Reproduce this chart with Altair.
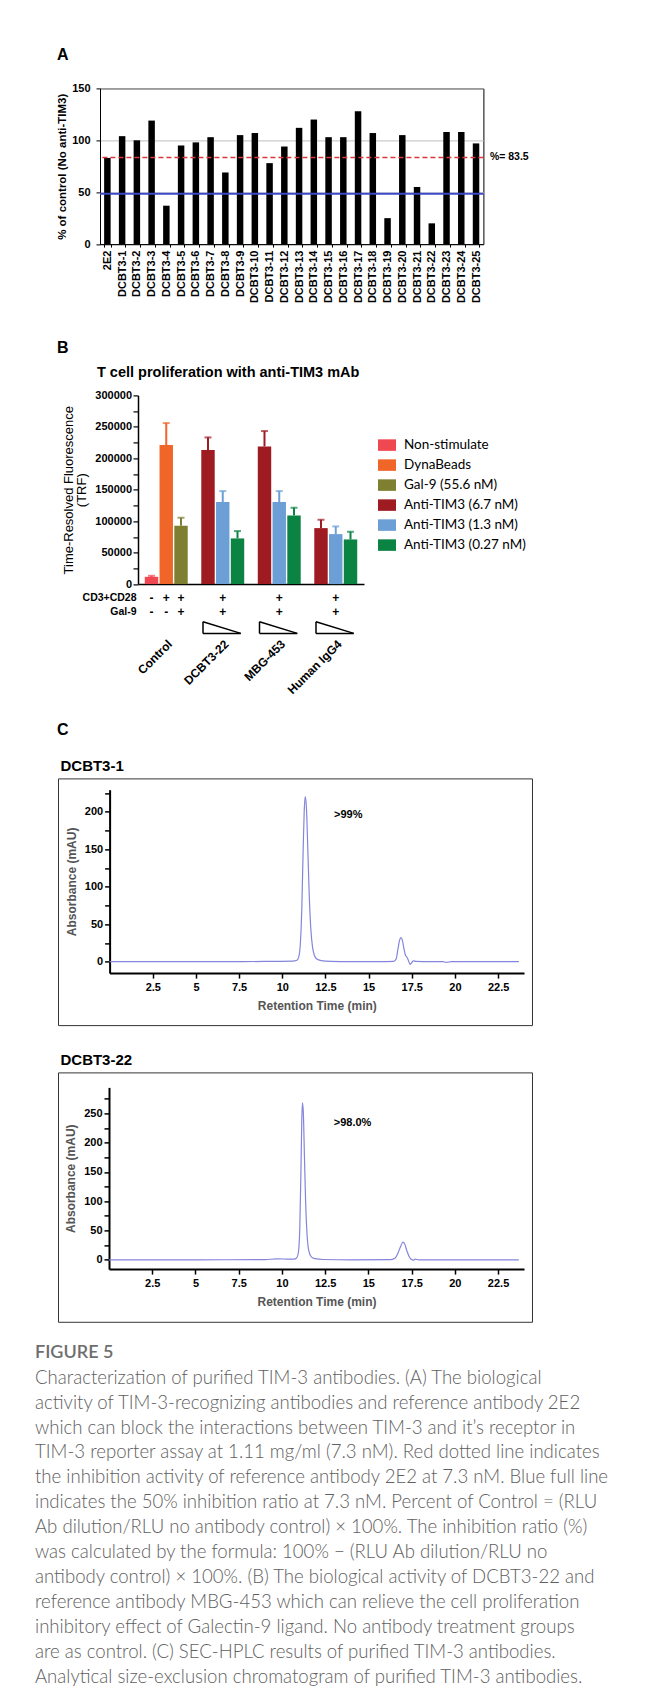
import altair as alt
import pandas as pd

FONT = "Liberation Sans"
CAPFONT = "Lato"

# ---------------- Panel A data ----------------
a_antibodies = ["2E2", "DCBT3-1", "DCBT3-2", "DCBT3-3", "DCBT3-4", "DCBT3-5", "DCBT3-6",
                "DCBT3-7", "DCBT3-8", "DCBT3-9", "DCBT3-10", "DCBT3-11", "DCBT3-12",
                "DCBT3-13", "DCBT3-14", "DCBT3-15", "DCBT3-16", "DCBT3-17", "DCBT3-18",
                "DCBT3-19", "DCBT3-20", "DCBT3-21", "DCBT3-22", "DCBT3-23", "DCBT3-24",
                "DCBT3-25"]
a_percent = [83, 104, 100, 119, 37, 95, 98, 103, 69, 105, 107, 78, 94,
             112, 120, 103, 103, 128, 107, 25, 105, 55, 20, 108, 108, 97]
a_ref_level = 83.5
a_half_level = 48.5
a_ref_label = "%= 83.5"

# ---------------- Panel B data ----------------
b_groups = ["Control", "DCBT3-22", "MBG-453", "Human IgG4"]
b_series = ["Non-stimulate", "DynaBeads", "Gal-9 (55.6 nM)", "Anti-TIM3 (6.7 nM)",
            "Anti-TIM3 (1.3 nM)", "Anti-TIM3 (0.27 nM)"]
b_colors = ["#ef4850", "#f06528", "#7f7f32", "#9e1b22", "#6b9fd6", "#0b8443"]
b_bar_group = ["Control"] * 3 + ["DCBT3-22"] * 3 + ["MBG-453"] * 3 + ["Human IgG4"] * 3
b_bar_series = ["Non-stimulate", "DynaBeads", "Gal-9 (55.6 nM)",
                "Anti-TIM3 (6.7 nM)", "Anti-TIM3 (1.3 nM)", "Anti-TIM3 (0.27 nM)",
                "Anti-TIM3 (6.7 nM)", "Anti-TIM3 (1.3 nM)", "Anti-TIM3 (0.27 nM)",
                "Anti-TIM3 (6.7 nM)", "Anti-TIM3 (1.3 nM)", "Anti-TIM3 (0.27 nM)"]
b_bar_slot = [0, 1, 2, 0, 1, 2, 0, 1, 2, 0, 1, 2]
b_mean = [11600, 221000, 92800, 213000, 130400, 72600, 218900, 130400, 109200, 89000, 79500, 71000]
b_err = [1600, 35000, 12700, 20200, 17500, 11700, 24400, 17500, 12200, 13300, 12200, 12200]
b_cd3_control = ["-", "+", "+"]
b_gal9_control = ["-", "-", "+"]
b_treated_groups = ["DCBT3-22", "MBG-453", "Human IgG4"]
b_row_labels = ["CD3+CD28", "Gal-9"]

# ---------------- Panel C data ----------------
c1_time = [0.0, 5.0, 9.0, 10.6, 10.85, 10.95, 11.05, 11.13, 11.2, 11.27, 11.33, 11.4, 11.48,
           11.56, 11.65, 11.75, 11.87, 12.0, 12.25, 12.8, 14.0, 16.45, 16.6, 16.7, 16.8,
           16.87, 16.95, 17.05, 17.13, 17.22, 17.3, 17.4, 17.48, 17.58, 17.75, 18.5, 19.3,
           19.5, 19.8, 23.7]
c1_abs = [0, 0, 0.3, 0.8, 2, 6, 25, 70, 140, 200, 220, 205, 150,
          90, 45, 20, 8, 3.5, 1.5, 0.5, 0, 0.3, 4, 17, 29,
          32, 29, 17, 9, 6, 2, -3.5, -2, 1, 0.5, 0, 0,
          -0.8, 0, 0]
c2_time = [0.0, 5.0, 9.0, 9.7, 10.3, 10.7, 10.85, 10.95, 11.03, 11.1, 11.15, 11.19, 11.24,
           11.3, 11.37, 11.45, 11.55, 11.7, 11.9, 12.4, 14.0, 16.3, 16.55, 16.72, 16.88,
           17.0, 17.1, 17.22, 17.35, 17.47, 17.6, 17.72, 17.9, 23.7]
c2_abs = [0, 0, 0.3, 1.5, 1.2, 1, 3, 12, 50, 150, 240, 268, 250,
          180, 100, 45, 16, 5, 2, 0.5, 0, 0.3, 3, 12, 24,
          30, 27, 16, 6, 1, -0.5, 1, 0, 0]
c_ticks_x = [2.5, 5, 7.5, 10, 12.5, 15, 17.5, 20, 22.5]
c1_note = ">99%"
c2_note = ">98.0%"

caption_lines = [
    "FIGURE 5",
    "Characterization of purified TIM-3 antibodies. (A) The biological",
    "activity of TIM-3-recognizing antibodies and reference antibody 2E2",
    "which can block the interactions between TIM-3 and it\u2019s receptor in",
    "TIM-3 reporter assay at 1.11 mg/ml (7.3 nM). Red dotted line indicates",
    "the inhibition activity of reference antibody 2E2 at 7.3 nM. Blue full line",
    "indicates the 50% inhibition ratio at 7.3 nM. Percent of Control = (RLU",
    "Ab dilution/RLU no antibody control) \u00d7 100%. The inhibition ratio (%)",
    "was calculated by the formula: 100% \u2212 (RLU Ab dilution/RLU no",
    "antibody control) \u00d7 100%. (B) The biological activity of DCBT3-22 and",
    "reference antibody MBG-453 which can relieve the cell proliferation",
    "inhibitory effect of Galectin-9 ligand. No antibody treatment groups",
    "are as control. (C) SEC-HPLC results of purified TIM-3 antibodies.",
    "Analytical size-exclusion chromatogram of purified TIM-3 antibodies.",
]

LEFT = 34  # page x of the layout origin (caption left edge)


def spacer(w, h, label=None, offset=0):
    c = alt.Chart(pd.DataFrame({"v": [0]})).mark_point(opacity=0).properties(width=w, height=h)
    if label:
        c = c.properties(title=alt.TitleParams(label, anchor="start", frame="group",
                                               dx=56 - LEFT, offset=offset, fontSize=16,
                                               fontWeight="bold", font=FONT, color="black"))
    return c


# ---------------- Panel A ----------------
WA, HA = 383.4, 155.7
dfA = pd.DataFrame({"antibody": a_antibodies, "pct": a_percent})
xA = alt.X("antibody:N", sort=a_antibodies, title=None,
           scale=alt.Scale(paddingInner=0.56, paddingOuter=0.28),
           axis=alt.Axis(labelAngle=270, labelFontSize=11, labelFontWeight="bold",
                         tickBand="extent", tickSize=3, labelPadding=3, domainWidth=1))


def yA(field):
    return alt.Y(field, title="% of control (No anti-TIM3)",
                 scale=alt.Scale(domain=[0, 150], nice=False),
                 axis=alt.Axis(values=[0, 50, 100, 150], grid=True, gridColor="#bfbfbf",
                               tickSize=4, labelPadding=6, labelFontSize=11,
                               labelFontWeight="bold", titleFontSize=11.5,
                               titleFontWeight="bold", titlePadding=4))


barsA = alt.Chart(dfA).mark_bar(color="black").encode(x=xA, y=yA("pct:Q"))
refA = alt.Chart(pd.DataFrame({"pct": [a_ref_level], "lab": [a_ref_label]}))
redA = refA.mark_rule(color="#e0353b", strokeDash=[5, 3], strokeWidth=1.5).encode(y=yA("pct:Q"))
txtA = refA.mark_text(align="left", baseline="middle", font=FONT, fontSize=10.5,
                      fontWeight="bold", color="black").encode(
    y=yA("pct:Q"), x=alt.value(WA + 6.5), text="lab:N")
blueA = alt.Chart(pd.DataFrame({"pct": [a_half_level]})).mark_rule(
    color="#3d48c6", strokeWidth=2).encode(y=yA("pct:Q"))
panelA = alt.layer(barsA, blueA, redA, txtA).properties(
    width=WA, height=HA, view=alt.ViewBackground(stroke="black", strokeWidth=1))

# ---------------- Panel B ----------------
WB, HB = 226, 188.7
dfB = pd.DataFrame({"group": b_bar_group, "series": b_bar_series, "slot": b_bar_slot,
                    "mean": b_mean, "err": b_err})
dfB["hi"] = dfB["mean"] + dfB["err"]


def xB(bp=None):
    kw = dict(sort=b_groups, title=None,
              scale=alt.Scale(domain=b_groups, paddingInner=0.24, paddingOuter=0.12),
              axis=alt.Axis(labels=False, ticks=False, domainWidth=1.5))
    if bp is not None:
        kw["bandPosition"] = bp
    return alt.X("group:N", **kw)


xoB = alt.XOffset("slot:O", scale=alt.Scale(paddingInner=0.09, paddingOuter=0))


def yB(field):
    return alt.Y(field, title=["Time-Resolved Fluorescence", "(TRF)"],
                 scale=alt.Scale(domain=[0, 300000], nice=False),
                 axis=alt.Axis(values=list(range(0, 300001, 25000)),
                               labelExpr="datum.value % 50000 === 0 ? datum.label : ''",
                               format="d", tickSize=5, labelPadding=1.5, labelFontSize=11,
                               labelFontWeight="bold", titleFontSize=13,
                               titleFontWeight="normal", titlePadding=6, grid=False,
                               titleLineHeight=13.7, domainWidth=1.5, tickWidth=1.2))


legB = alt.Legend(orient="none", legendX=240, legendY=40.7, title=None,
                  symbolType="M-1,-0.64L1,-0.64L1,0.64L-1,0.64Z", symbolSize=324,
                  symbolStrokeWidth=0, labelFont=CAPFONT, labelFontSize=13.5,
                  labelColor="black", rowPadding=4, labelOffset=8, padding=0)
colB = alt.Color("series:N", scale=alt.Scale(domain=b_series, range=b_colors), legend=legB)
colB0 = alt.Color("series:N", scale=alt.Scale(domain=b_series, range=b_colors), legend=None)

barsB = alt.Chart(dfB).mark_bar().encode(x=xB(), xOffset=xoB, y=yB("mean:Q"), color=colB)
errB = alt.Chart(dfB).mark_rule(strokeWidth=2).encode(
    x=xB(), xOffset=xoB, y=yB("mean:Q"), y2="hi:Q", color=colB0)
capB = alt.Chart(dfB).mark_tick(thickness=2, size=7, orient="horizontal").encode(
    x=xB(), xOffset=xoB, y=yB("hi:Q"), color=colB0)

sign = dict(font=FONT, fontSize=12, fontWeight="bold", color="black", baseline="middle")
ctrl = pd.DataFrame({"group": ["Control"] * 3, "slot": [0, 1, 2],
                     "cd3": b_cd3_control, "gal9": b_gal9_control})
treat = pd.DataFrame({"group": b_treated_groups, "cd3": ["+"] * 3, "gal9": ["+"] * 3})
s1 = alt.Chart(ctrl).mark_text(**sign).encode(x=xB(), xOffset=xoB, y=alt.value(HB + 13.7), text="cd3:N")
s2 = alt.Chart(ctrl).mark_text(**sign).encode(x=xB(), xOffset=xoB, y=alt.value(HB + 28), text="gal9:N")
s3 = alt.Chart(treat).mark_text(**sign).encode(x=xB(), y=alt.value(HB + 13.7), text="cd3:N")
s4 = alt.Chart(treat).mark_text(**sign).encode(x=xB(), y=alt.value(HB + 28), text="gal9:N")
rowlab = dict(font=FONT, fontSize=10.5, fontWeight="bold", color="black",
              baseline="middle", align="right")
r1 = alt.Chart(pd.DataFrame({"lab": [b_row_labels[0]]})).mark_text(**rowlab).encode(
    x=alt.value(-1.5), y=alt.value(HB + 13.7), text="lab:N")
r2 = alt.Chart(pd.DataFrame({"lab": [b_row_labels[1]]})).mark_text(**rowlab).encode(
    x=alt.value(-1.5), y=alt.value(HB + 28), text="lab:N")

tri = alt.Chart(pd.DataFrame({"group": b_treated_groups}))
tri_style = dict(color="black", strokeWidth=1.5)
t1 = tri.mark_rule(**tri_style).encode(x=xB(0.04), y=alt.value(HB + 37.7), y2=alt.value(HB + 49.3))
t2 = tri.mark_rule(**tri_style).encode(x=xB(0.04), x2=alt.X2("group:N", bandPosition=0.92),
                                       y=alt.value(HB + 49.3))
t3 = tri.mark_rule(**tri_style).encode(x=xB(0.04), x2=alt.X2("group:N", bandPosition=0.92),
                                       y=alt.value(HB + 37.7), y2=alt.value(HB + 49.3))
glab = alt.Chart(pd.DataFrame({"group": b_groups})).mark_text(
    angle=315, align="right", baseline="middle", font=FONT, fontSize=12,
    fontWeight="bold", color="black").encode(x=xB(0.59), y=alt.value(HB + 58), text="group:N")

panelB = alt.layer(barsB, errB, capB, s1, s2, s3, s4, r1, r2, t1, t2, t3, glab).properties(
    width=WB, height=HB,
    title=alt.TitleParams("T cell proliferation with anti-TIM3 mAb", anchor="start",
                          frame="group", dx=-41, offset=9.3, fontSize=14.5,
                          fontWeight="bold", font=FONT, color="black"))


# ---------------- Panel C ----------------
def chroma(times, absb, title, W, H, xrange, yrange, ydom, ytop_tick, note, note_x, note_y,
           toff):
    df = pd.DataFrame({"t": times, "a": absb})
    xoff = -(H - yrange[0])
    yoff = -xrange[0]
    x = alt.X("t:Q", title="Retention Time (min)",
              scale=alt.Scale(domain=[0, 24], range=xrange, nice=False, zero=False),
              axis=alt.Axis(values=c_ticks_x, format=".3~g", offset=xoff, tickSize=5,
                            labelPadding=3, labelFontSize=11, labelFontWeight="bold",
                            titleFontSize=12, titleFontWeight="bold", titleColor="#555555",
                            titlePadding=8, domainWidth=2, tickWidth=1.5, grid=False))
    y = alt.Y("a:Q", title="Absorbance (mAU)",
              scale=alt.Scale(domain=ydom, range=yrange, nice=False, zero=False),
              axis=alt.Axis(values=list(range(0, ytop_tick + 1, 25)),
                            labelExpr="datum.value % 50 === 0 ? datum.label : ''",
                            format="d", offset=yoff, tickSize=5, labelPadding=2,
                            labelFontSize=11, labelFontWeight="bold", titleFontSize=12,
                            titleFontWeight="bold", titleColor="#555555", titlePadding=6,
                            domainWidth=2, tickWidth=1.5, grid=False))
    line = alt.Chart(df).mark_line(color="#8585dc", strokeWidth=1.2,
                                   interpolate="monotone").encode(x=x, y=y)
    txt = alt.Chart(pd.DataFrame({"t": [note_x], "a": [note_y], "lab": [note]})).mark_text(
        align="left", baseline="middle", font=FONT, fontSize=11, fontWeight="bold",
        color="black").encode(x=x, y=y, text="lab:N")
    return alt.layer(line, txt).properties(
        width=W, height=H, view=alt.ViewBackground(stroke="#333333", strokeWidth=1),
        title=alt.TitleParams(title, anchor="start", frame="group", dx=2.5, offset=toff,
                              fontSize=15, fontWeight="bold", font=FONT, color="black"))


panelC1 = chroma(c1_time, c1_abs, "DCBT3-1", 474, 246.7, [51.6, 466], [194.7, 11.3],
                 [-15.2, 229.3], 225, c1_note, 13.0, 195, 4.4)
panelC2 = chroma(c2_time, c2_abs, "DCBT3-22", 474, 249.4, [51, 466], [196.7, 15],
                 [-15.9, 294.4], 275, c2_note, 13.0, 233, 4.7)

# ---------------- Caption ----------------
STEP = 24.9
dfCap = pd.DataFrame({"i": list(range(len(caption_lines))), "line": caption_lines})
yCap = alt.Y("i:O", axis=None, scale=alt.Scale(type="point", padding=0.5))
head = alt.Chart(dfCap.iloc[:1]).mark_text(
    align="left", baseline="middle", font=CAPFONT, fontSize=18, fontWeight=600,
    color="#6e6e6e").encode(x=alt.value(0), y=yCap, text="line:N")
body = alt.Chart(dfCap.iloc[1:]).mark_text(
    align="left", baseline="middle", font=CAPFONT, fontSize=18.6, fontWeight=300,
    color="#606060").encode(x=alt.value(0), y=yCap, text="line:N")
caption = alt.layer(head, body).properties(width=590, height=STEP * len(caption_lines))

# ---------------- Layout ----------------
rowA = alt.hconcat(spacer(98.3 - LEFT, 251.1, "A", 24.9), panelA, spacing=0, bounds="flush")
rowB = alt.hconcat(spacer(136.7 - LEFT, 325.1, "B", 38.9), panelB, spacing=0,
                   bounds="flush").resolve_scale(color="independent").resolve_legend(
    color="independent")
rowC1 = alt.hconcat(spacer(56.7 - LEFT, 272.1, "C", 40.6), panelC1, spacing=0, bounds="flush")
rowC2 = alt.hconcat(spacer(56.7 - LEFT, 1347 - STEP / 2 - 1068.3), panelC2, spacing=0,
                    bounds="flush")

chart = alt.vconcat(rowA, rowB, rowC1, rowC2, caption, spacing=0).resolve_scale(
    color="independent").resolve_legend(color="independent").properties(
    padding={"left": LEFT - 8, "top": 39.4, "right": 4, "bottom": 4}
).configure_view(stroke="transparent").configure_axis(
    labelFont=FONT, titleFont=FONT, labelColor="black", titleColor="black",
    tickColor="black", domainColor="black"
).configure_title(font=FONT, color="black")

chart.save("out.html", embed_options={"renderer": "svg", "actions": False})
